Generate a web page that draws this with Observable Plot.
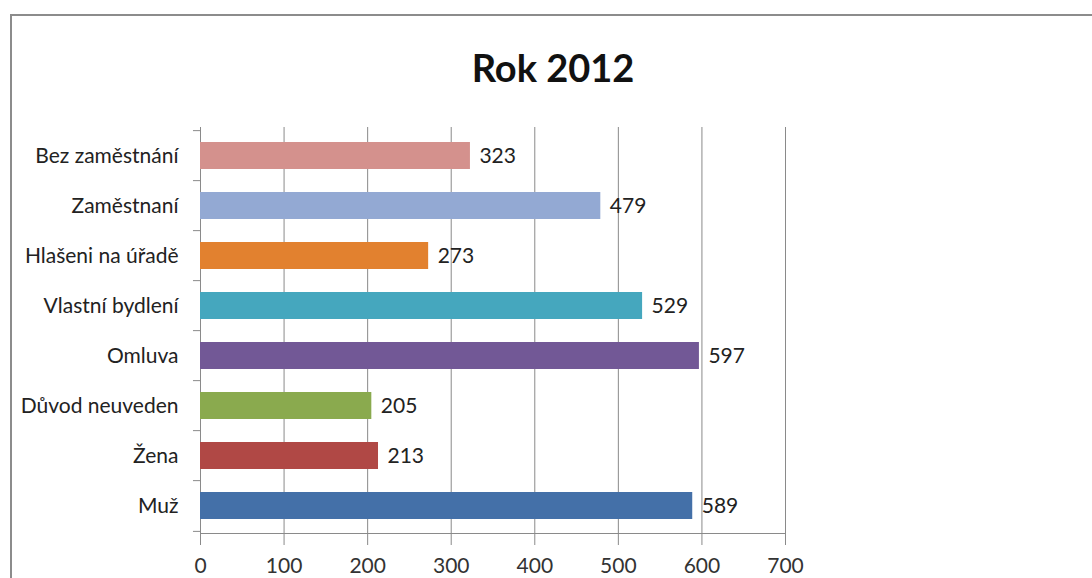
<!DOCTYPE html>
<html>
<head>
<meta charset="utf-8">
<script src="https://cdn.jsdelivr.net/npm/d3@7"></script>
<script src="https://cdn.jsdelivr.net/npm/@observablehq/plot@0.6"></script>
<style>
  html, body { margin: 0; padding: 0; background: #fff; }
  #wrap { position: relative; width: 1092px; height: 578px; overflow: hidden; background: #fff; }
  #border { position: absolute; left: 10px; top: 14px; width: 1200px; height: 700px; border: 2px solid #8c8c8c; box-sizing: border-box; }
  #title { position: absolute; left: 0; width: 1106px; top: 44px; text-align: center; font-family: Lato, "Open Sans", sans-serif; font-weight: bold; font-size: 38px; color: #111; }
  #chart { position: absolute; left: 0; top: 0; }
</style>
</head>
<body>
<div id="wrap">
  <div id="border"></div>
  <div id="title">Rok 2012</div>
  <div id="chart"></div>
</div>
<script>
const categories = ["Bez zaměstnání", "Zaměstnaní", "Hlašeni na úřadě", "Vlastní bydlení", "Omluva", "Důvod neuveden", "Žena", "Muž"];
const values = [323, 479, 273, 529, 597, 205, 213, 589];
const colors = ["#D4918D", "#93A9D3", "#E2812F", "#45A7BE", "#725896", "#8AAA4E", "#B04845", "#4470A8"];
const xTicks = [0, 100, 200, 300, 400, 500, 600, 700];

const data = categories.map((c, i) => ({category: c, value: values[i]}));

const marginTop = 127, marginBottom = 45, height = 578;
const step = (height - marginTop - marginBottom) / categories.length;

const chart = Plot.plot({
  width: 1092,
  height: height,
  marginLeft: 200,
  marginRight: 307,
  marginTop: marginTop,
  marginBottom: marginBottom,
  style: {background: "transparent", fontFamily: "Lato, 'Open Sans', sans-serif"},
  x: {domain: [0, 700]},
  y: {domain: categories, paddingInner: 0.47, paddingOuter: 0.235, align: 0.5},
  color: {domain: categories, range: colors},
  marks: [
    Plot.gridX(xTicks, {stroke: "#8a8a8a", strokeOpacity: 1, strokeWidth: 1}),
    Plot.frame({anchor: "bottom", stroke: "#8a8a8a"}),
    Plot.ruleY(categories, {y: d => d, dy: -step / 2, x1: -8.4, x2: 0, stroke: "#8a8a8a"}),
    Plot.ruleY([categories[categories.length - 1]], {y: d => d, dy: step / 2, x1: -8.4, x2: 0, stroke: "#8a8a8a"}),
    Plot.barX(data, {y: "category", x: "value", fill: "category"}),
    Plot.text(data, {y: "category", x: "value", text: d => String(d.value), textAnchor: "start", dx: 9, fontSize: 21, fill: "#222"}),
    Plot.axisX(xTicks, {tickSize: 12, tickPadding: 13, fontSize: 21, stroke: "#8a8a8a", color: "#333", label: null}),
    Plot.axisY({tickSize: 0, tickPadding: 22, fontSize: 21, color: "#222", label: null})
  ]
});
document.getElementById("chart").appendChild(chart);
</script>
</body>
</html>
